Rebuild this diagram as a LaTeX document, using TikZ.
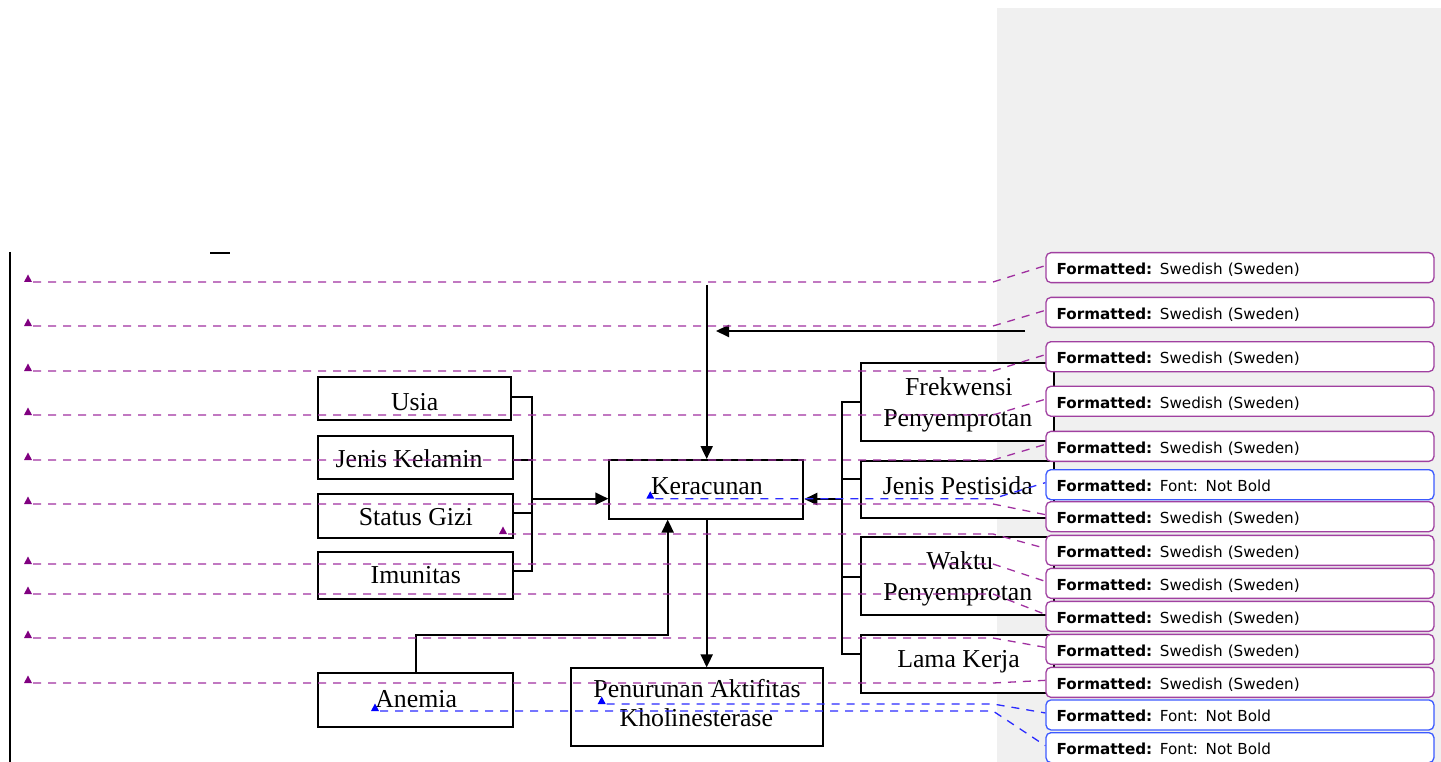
\documentclass[tikz,border=0pt]{standalone}
\usepackage{fontspec}
\setmainfont{Liberation Serif}
\newfontfamily\cmtfont{DejaVu Sans}
\usetikzlibrary{arrows.meta}
\definecolor{panelgray}{HTML}{F0F0F0}
\definecolor{purpline}{HTML}{A030A0}
\definecolor{purpmark}{HTML}{800080}
\definecolor{blueline}{HTML}{2B2BFF}
\definecolor{bluemark}{HTML}{0000FF}
\definecolor{cmtpurple}{HTML}{A040A0}
\definecolor{cmtblue}{HTML}{3C5AFF}
\newcommand\drawmarker[2]{\fill[#1] (#2) ++(-4,0) -- ++(8,0) -- ++(-4,-7.5) -- cycle;}
\begin{document}
\begin{tikzpicture}[x=1pt,y=-1pt,
  box/.style={draw=black,fill=white,line width=1.9pt,rectangle,inner sep=0pt},
  lbl/.style={font=\fontsize{25.8}{30}\selectfont,anchor=base,inner sep=0pt},
  conn/.style={line width=2pt,draw=black},
  arr/.style={conn,-{Triangle[length=13pt,width=12pt]}},
  dl/.style={line width=1.3pt,dash pattern=on 8pt off 7pt},
  pl/.style={dl,purpline},
  bl/.style={dl,blueline},
  cmt/.style={draw,fill=white,rounded corners=5pt,line width=1.3pt,
    minimum height=30pt,anchor=north west,inner xsep=10.7pt,inner ysep=0pt,
    text width=366.6pt,align=left,text height=14pt,text depth=0pt,
    font=\cmtfont\fontsize{15.2}{18}\selectfont},
  cp/.style={cmt,draw=cmtpurple},
  cb/.style={cmt,draw=cmtblue}
]
\useasboundingbox (0,0) rectangle (1441,762);
% comment panel
\fill[panelgray] (997,8) rectangle (1441,762);
% margin line
\draw[line width=2.2pt] (10,252) -- (10,762);
\draw[line width=1.4pt] (210,253) -- (230,253);

% boxes
\node[box,minimum width=193pt,minimum height=43pt] (usia) at (414.7,398.7) {};
\node[box,minimum width=194.4pt,minimum height=43.6pt] (jk) at (415.5,457.5) {};
\node[box,minimum width=194.4pt,minimum height=43.7pt] (sg) at (415.5,515.9) {};
\node[box,minimum width=194.4pt,minimum height=46.7pt] (im) at (415.5,575.3) {};
\node[box,minimum width=194.4pt,minimum height=54pt] (an) at (415.5,699.7) {};
\node[box,minimum width=194pt,minimum height=58.7pt] (ker) at (706.3,489.3) {};
\node[box,minimum width=252.6pt,minimum height=77.7pt] (pen) at (697,707.2) {};
\node[box,minimum width=193.3pt,minimum height=77.4pt] (frek) at (957.7,402) {};
\node[box,minimum width=193.3pt,minimum height=57.6pt] (jp) at (957.7,489.5) {};
\node[box,minimum width=193.3pt,minimum height=78pt] (wk) at (957.7,576.3) {};
\node[box,minimum width=193.3pt,minimum height=58pt] (lama) at (957.7,663.7) {};

% texts
\node[lbl] (usia-t) at (414.7,410) {Usia};
\node[lbl] (jk-t) at (409,467.7) {Jenis Kelamin};
\node[lbl] (sg-t) at (415.8,525.7) {Status Gizi};
\node[lbl] (im-t) at (415.8,583.3) {Imunitas};
\node[lbl] (an-t) at (416.2,707.3) {Anemia};
\node[lbl] (ker-t) at (706.9,494.3) {Keracunan};
\node[lbl] (pen-t1) at (697,697.3) {Penurunan Aktifitas};
\node[lbl] (pen-t2) at (696.3,726) {Kholinesterase};
\node[lbl] (frek-t1) at (958.8,395) {Frekwensi};
\node[lbl] (frek-t2) at (957.8,426) {Penyemprotan};
\node[lbl] (jp-t) at (957.8,494) {Jenis Pestisida};
\node[lbl] (wk-t1) at (959.7,569.3) {Waktu};
\node[lbl] (wk-t2) at (957.8,600) {Penyemprotan};
\node[lbl] (lama-t) at (958.5,667.3) {Lama Kerja};

% connector coordinates
\coordinate (lb1) at (532.3,396.7);
\coordinate (lb2) at (532.3,460);
\coordinate (lb3) at (532.3,513.3);
\coordinate (lb4) at (532.3,571.3);
\coordinate (lba) at (532.3,498.7);
\coordinate (rb1) at (842.3,401.7);
\coordinate (rb2) at (842.3,479.3);
\coordinate (rb3) at (842.3,576.7);
\coordinate (rb4) at (842.3,654);
\coordinate (rba) at (842.3,499);
\coordinate (ts) at (706.7,285);
\coordinate (hs) at (1025,331);
\coordinate (he) at (716,331);
\coordinate (ab) at (667.7,634.7);

% black connectors
\draw[conn] (usia.east |- lb1) -- (lb1) -- (lb4) -- (im.east |- lb4);
\draw[conn] (jk.east |- lb2) -- (lb2);
\draw[conn] (sg.east |- lb3) -- (lb3);
\draw[arr] (lba) -- (ker.west |- lba);
\draw[conn] (frek.west |- rb1) -- (rb1) -- (rb4) -- (lama.west |- rb4);
\draw[conn] (jp.west |- rb2) -- (rb2);
\draw[conn] (wk.west |- rb3) -- (rb3);
\draw[arr] (rba) -- (ker.east |- rba);
\draw[arr] (ts) -- (ts |- ker.north);
\draw[arr] (hs) -- (he);
\draw[arr] (ker.south -| ts) -- (pen.north -| ts);
\draw[arr] (an.north) -- (an.north |- ab) -- (ab) -- (ab |- ker.south);

% comment boxes
\node[cp] (c1) at (1045.3,252) {\textbf{Formatted:} Swedish (Sweden)};
\node[cp] (c2) at (1045.3,296.7) {\textbf{Formatted:} Swedish (Sweden)};
\node[cp] (c3) at (1045.3,341) {\textbf{Formatted:} Swedish (Sweden)};
\node[cp] (c4) at (1045.3,385.6) {\textbf{Formatted:} Swedish (Sweden)};
\node[cp] (c5) at (1045.3,430.7) {\textbf{Formatted:} Swedish (Sweden)};
\node[cb] (c6) at (1045.3,469) {\textbf{Formatted:} Font: Not Bold};
\node[cp] (c7) at (1045.3,501) {\textbf{Formatted:} Swedish (Sweden)};
\node[cp] (c8) at (1045.3,534.7) {\textbf{Formatted:} Swedish (Sweden)};
\node[cp] (c9) at (1045.3,567.7) {\textbf{Formatted:} Swedish (Sweden)};
\node[cp] (c10) at (1045.3,600.7) {\textbf{Formatted:} Swedish (Sweden)};
\node[cp] (c11) at (1045.3,633.7) {\textbf{Formatted:} Swedish (Sweden)};
\node[cp] (c12) at (1045.3,666.7) {\textbf{Formatted:} Swedish (Sweden)};
\node[cb] (c13) at (1045.3,699.3) {\textbf{Formatted:} Font: Not Bold};
\node[cb] (c14) at (1045.3,732) {\textbf{Formatted:} Font: Not Bold};

% markers
\coordinate (bx) at (993,0);
\coordinate (m1) at (28,282);
\coordinate (m2) at (28,326);
\coordinate (m3) at (28,371);
\coordinate (m4) at (28,415);
\coordinate (m5) at (28,460);
\coordinate (m7) at (28,504);
\coordinate (m8) at (503,534);
\coordinate (m9) at (28,564);
\coordinate (m10) at (28,594);
\coordinate (m11) at (28,638);
\coordinate (m12) at (28,683);
\coordinate (m6) at (650.3,498.7);
\coordinate (m13) at (601.7,704);
\coordinate (m14) at (375,711);

\foreach \i/\c in {1/c1,2/c2,3/c3,4/c4,5/c5,7/c7,8/c8,9/c9,10/c10,11/c11,12/c12}{
  \draw[pl] ([xshift=5pt]m\i) -- (m\i -| bx) -- ([yshift=2pt]\c.west);
  \drawmarker{purpmark}{m\i}
}
\foreach \i/\c in {6/c6,13/c13,14/c14}{
  \draw[bl] ([xshift=5pt]m\i) -- (m\i -| bx) -- ([yshift=2pt]\c.west);
  \drawmarker{bluemark}{m\i}
}
\end{tikzpicture}
\end{document}
